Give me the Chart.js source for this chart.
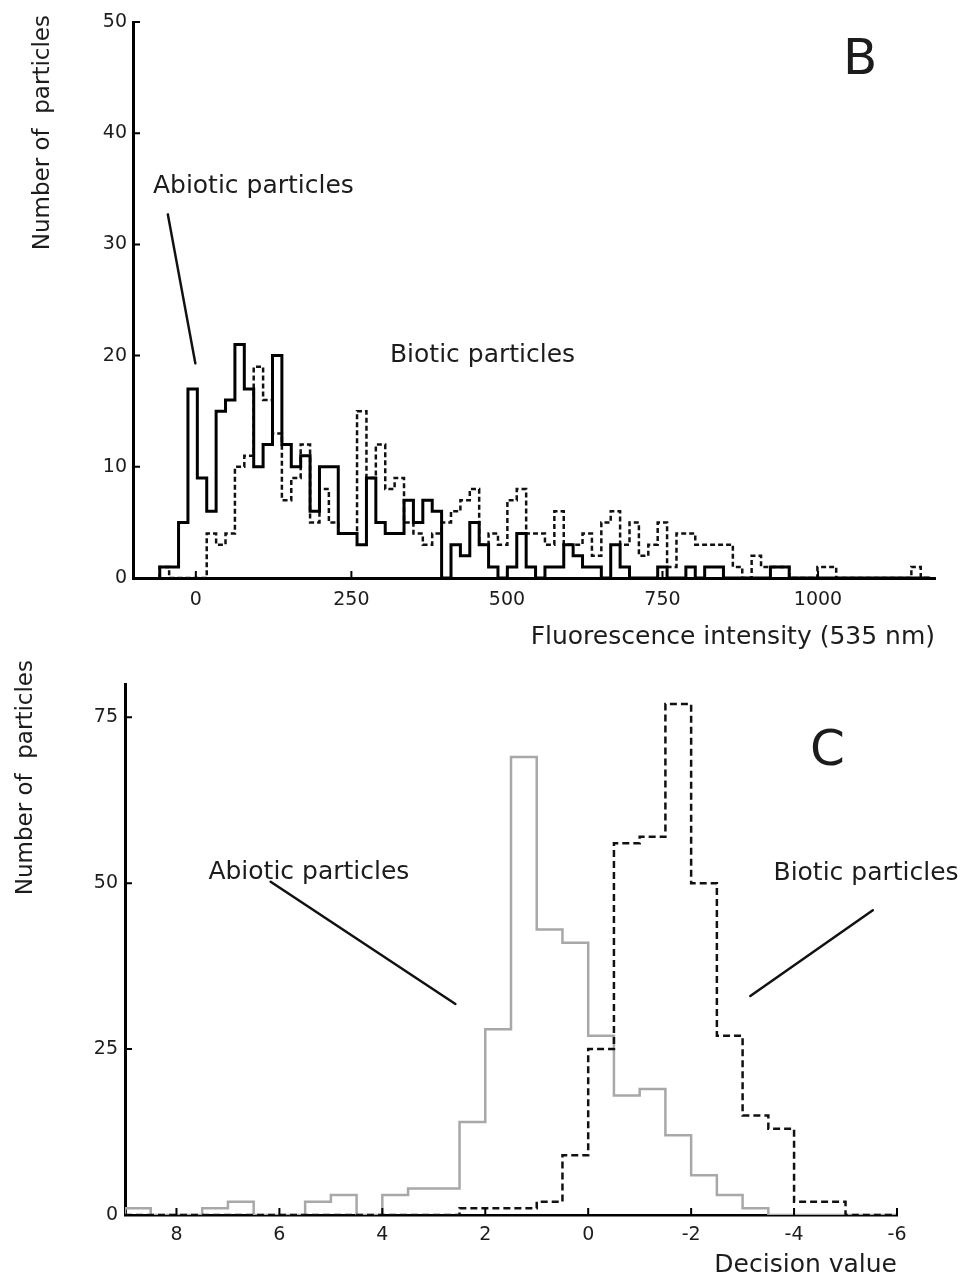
<!DOCTYPE html>
<html>
<head>
<meta charset="utf-8">
<script src="https://cdn.jsdelivr.net/npm/chart.js@4.4.1/dist/chart.umd.min.js"></script>
<style>
    html, body { margin: 0; padding: 0; background: #fff; }
    .panel { position: absolute; left: 0; width: 964px; }
    #wrapB { top: 0; height: 652px; }
    #wrapC { top: 652px; height: 631px; }
</style>
</head>
<body>
<div class="panel" id="wrapB"><canvas id="chartB"></canvas></div>
<div class="panel" id="wrapC"><canvas id="chartC"></canvas></div>
<script>
// ═══════════════════════════════════════════════════════
// Particle histograms — panel B (fluorescence) and C (decision value)
// ═══════════════════════════════════════════════════════

// ─── PANEL B DATA ───
const B_BIN_START = -58;
const B_BIN_WIDTH = 15.1;
const B_ABIOTIC = [
    1, 1, 5, 17, 9, 6, 15, 16, 21, 17,
    10, 12, 20, 12, 10, 11, 6, 10, 10, 4,
    4, 3, 9, 5, 4, 4, 7, 5, 7, 6,
    0, 3, 2, 5, 3, 1, 0, 1, 4, 1,
    0, 1, 1, 3, 2, 1, 1, 0, 3, 1,
    0, 0, 0, 1, 0, 0, 1, 0, 1, 1,
    0, 0, 0, 0, 0, 1, 1, 0, 0, 0,
    0, 0, 0, 0, 0, 0, 0, 0, 0, 0,
    0, 0
];
const B_BIOTIC = [
    1, 0, 0, 0, 0, 4, 3, 4, 10, 11,
    19, 16, 13, 7, 9, 12, 5, 8, 5, 4,
    4, 15, 9, 12, 8, 9, 5, 4, 3, 4,
    5, 6, 7, 8, 3, 4, 3, 7, 8, 4,
    4, 3, 6, 3, 3, 4, 2, 5, 6, 3,
    5, 2, 3, 5, 1, 4, 4, 3, 3, 3,
    3, 1, 0, 2, 1, 1, 1, 0, 0, 0,
    1, 1, 0, 0, 0, 0, 0, 0, 0, 0,
    1, 0
];
const B_X_TICKS = [0, 250, 500, 750, 1000];
const B_Y_TICKS = [0, 10, 20, 30, 40, 50];

// ─── PANEL C DATA ───
const C_BIN_START = 9;
const C_BIN_WIDTH = -0.5;
const C_ABIOTIC = [
    1, 0, 0, 1, 2, 0, 0, 2, 3, 0,
    3, 4, 4, 14, 28, 69, 43, 41, 27, 18,
    19, 12, 6, 3, 1, 0, 0, 0, 0, 0
];
const C_BIOTIC = [
    0, 0, 0, 0, 0, 0, 0, 0, 0, 0,
    0, 0, 0, 1, 1, 1, 2, 9, 25, 56,
    57, 77, 50, 27, 15, 13, 2, 2, 0, 0
];
const C_X_TICKS = [8, 6, 4, 2, 0, -2, -4, -6];
const C_Y_TICKS = [0, 25, 50, 75];

(function () {
    'use strict';

    const FONT = 'DejaVu Sans';
    const INK = '#1c1c1c';
    Chart.defaults.font.family = FONT;
    Chart.defaults.color = INK;

    // ─── STEP OUTLINE ───
    // rise at first edge, hold each count over its bin, drop after the last bin
    function stepPoints(start, width, counts) {
        const pts = [{ x: start, y: 0 }];
        counts.forEach((c, i) => pts.push({ x: start + i * width, y: c }));
        pts.push({ x: start + counts.length * width, y: 0 });
        return pts;
    }

    // ─── INWARD TICK MARKS ───
    const tickMarks = {
        id: 'tickMarks',
        afterDraw(chart, args, opts) {
            const { ctx, chartArea, scales: { x, y } } = chart;
            ctx.save();
            ctx.strokeStyle = '#000';
            ctx.lineWidth = opts.width;
            ctx.beginPath();
            x.ticks.forEach(t => {
                const px = x.getPixelForValue(t.value);
                ctx.moveTo(px, chartArea.bottom);
                ctx.lineTo(px, chartArea.bottom - opts.len);
            });
            y.ticks.forEach(t => {
                const py = y.getPixelForValue(t.value);
                ctx.moveTo(chartArea.left, py);
                ctx.lineTo(chartArea.left + opts.len, py);
            });
            ctx.stroke();
            ctx.restore();
        }
    };

    // ─── LABELS, POINTER LINES, AXIS TITLES ───
    const notes = {
        id: 'notes',
        afterDraw(chart, args, opts) {
            const { ctx, chartArea, scales: { x, y } } = chart;
            ctx.save();
            ctx.strokeStyle = '#111';
            ctx.lineCap = 'round';
            (opts.lines || []).forEach(l => {
                ctx.lineWidth = 2.5;
                ctx.beginPath();
                ctx.moveTo(x.getPixelForValue(l.x1), y.getPixelForValue(l.y1));
                ctx.lineTo(x.getPixelForValue(l.x2), y.getPixelForValue(l.y2));
                ctx.stroke();
            });
            ctx.fillStyle = INK;
            ctx.textAlign = 'left';
            ctx.textBaseline = 'alphabetic';
            (opts.labels || []).forEach(t => {
                ctx.font = `${t.size}px "${FONT}"`;
                ctx.fillText(t.text, x.getPixelForValue(t.x), y.getPixelForValue(t.y));
            });

            // x title: right-aligned on the axis end, whatever the axis direction
            const xt = opts.xTitle;
            if (xt) {
                ctx.font = `${xt.size}px "${FONT}"`;
                ctx.textAlign = 'right';
                ctx.textBaseline = 'middle';
                ctx.fillText(xt.text, chartArea.right, xt.mid);
            }

            // y title: rotated, hung from the top
            const yt = opts.yTitle;
            if (yt) {
                ctx.font = `${yt.size}px "${FONT}"`;
                ctx.translate(yt.cx, yt.top);
                ctx.rotate(-Math.PI / 2);
                ctx.textAlign = 'right';
                ctx.textBaseline = 'middle';
                ctx.fillText(yt.text, 0, 0);
            }
            ctx.restore();
        }
    };

    function makeChart(id, cfg) {
        return new Chart(document.getElementById(id), {
            type: 'line',
            data: { datasets: cfg.datasets },
            options: {
                responsive: true,
                maintainAspectRatio: false,
                animation: false,
                layout: { padding: cfg.padding },
                elements: { point: { radius: 0 }, line: { tension: 0, borderJoinStyle: 'miter', borderCapStyle: 'butt' } },
                plugins: {
                    legend: { display: false },
                    tooltip: { enabled: false },
                    tickMarks: { len: 7, width: 2 },
                    notes: cfg.notes
                },
                scales: {
                    x: {
                        type: 'linear',
                        min: cfg.xMin, max: cfg.xMax, reverse: !!cfg.xReverse,
                        grid: { display: false, drawTicks: false },
                        border: { color: '#000', width: cfg.xBorder },
                        afterBuildTicks: s => { s.ticks = cfg.xTicks.map(v => ({ value: v })); },
                        afterFit: s => { s.height = cfg.xHeight; },
                        ticks: { padding: cfg.xPad, font: { size: 19 }, color: INK, maxRotation: 0, callback: v => String(v) }
                    },
                    y: {
                        min: cfg.yMin, max: cfg.yMax,
                        grid: { display: false, drawTicks: false },
                        border: { color: '#000', width: 3 },
                        afterBuildTicks: s => { s.ticks = cfg.yTicks.map(v => ({ value: v })); },
                        afterFit: s => { s.width = cfg.yWidth; },
                        ticks: { padding: cfg.yPad, font: { size: 19 }, color: INK, callback: v => String(v) }
                    }
                }
            },
            plugins: [tickMarks, notes]
        });
    }

    // ─── PANEL B ───
    makeChart('chartB', {
        datasets: [
            { data: stepPoints(B_BIN_START, B_BIN_WIDTH, B_ABIOTIC), stepped: true, borderColor: '#000', borderWidth: 3, fill: false },
            { data: stepPoints(B_BIN_START, B_BIN_WIDTH, B_BIOTIC), stepped: true, borderColor: '#111', borderWidth: 2.5, borderDash: [5, 3], fill: false }
        ],
        padding: { left: 0, right: 29, top: 22, bottom: 0 },
        xMin: -101, xMax: 1188, xTicks: B_X_TICKS, xHeight: 74, xPad: 11, xBorder: 3,
        yMin: 0, yMax: 50, yTicks: B_Y_TICKS, yWidth: 133, yPad: 6,
        notes: {
            labels: [
                { text: 'Abiotic particles', x: -69, y: 34.6, size: 25 },
                { text: 'Biotic particles', x: 312, y: 19.4, size: 25 },
                { text: 'B', x: 1040, y: 45.3, size: 50 }
            ],
            lines: [{ x1: -45, y1: 32.7, x2: -0.8, y2: 19.3 }],
            xTitle: { text: 'Fluorescence intensity (535 nm)', mid: 637, size: 25 },
            yTitle: { text: 'Number of  particles', cx: 43, top: 15, size: 23 }
        }
    });

    // ─── PANEL C ───
    makeChart('chartC', {
        datasets: [
            { data: stepPoints(C_BIN_START, C_BIN_WIDTH, C_BIOTIC), stepped: true, borderColor: '#111', borderWidth: 2.5, borderDash: [7, 4], fill: false },
            { data: stepPoints(C_BIN_START, C_BIN_WIDTH, C_ABIOTIC), stepped: true, borderColor: '#a8a8a8', borderWidth: 2.5, fill: false }
        ],
        padding: { left: 0, right: 67, top: 32, bottom: 0 },
        xMin: -6, xMax: 9, xReverse: true, xTicks: C_X_TICKS, xHeight: 68, xPad: 9, xBorder: 2.5,
        yMin: 0, yMax: 80, yTicks: C_Y_TICKS, yWidth: 125, yPad: 7,
        notes: {
            labels: [
                { text: 'Abiotic particles', x: 7.38, y: 50.6, size: 25 },
                { text: 'Biotic particles', x: -3.6, y: 50.45, size: 25 },
                { text: 'C', x: -4.31, y: 67.8, size: 50 }
            ],
            lines: [
                { x1: 6.17, y1: 50.2, x2: 2.58, y2: 31.8 },
                { x1: -5.53, y1: 45.9, x2: -3.15, y2: 33.0 }
            ],
            xTitle: { text: 'Decision value', mid: 613, size: 25 },
            yTitle: { text: 'Number of  particles', cx: 26, top: 8, size: 23 }
        }
    });

})();
</script>
</body>
</html>
